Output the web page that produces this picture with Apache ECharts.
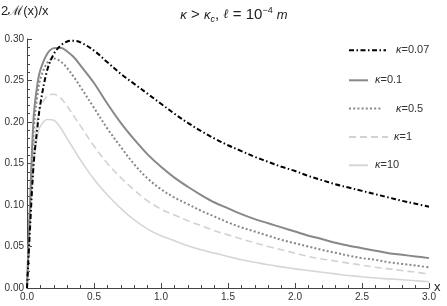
<!DOCTYPE html>
<html>
<head>
<meta charset="utf-8">
<script src="https://cdn.jsdelivr.net/npm/echarts@6/dist/echarts.min.js"></script>
<style>html,body{margin:0;padding:0;background:#fff}#c{width:447px;height:306px}</style>
</head>
<body>
<div id="c"></div>
<script>
// x positions of the sampled points
var xs = [0, 0.02, 0.05, 0.08, 0.1, 0.15, 0.2, 0.25, 0.3, 0.35, 0.4, 0.5, 0.6, 0.7, 0.8, 0.9, 1.0,
          1.1, 1.2, 1.3, 1.4, 1.5, 1.6, 1.7, 1.8, 1.9, 2.0, 2.1, 2.2, 2.3, 2.4, 2.5, 2.6, 2.7, 2.8, 2.9, 3.0];
// 2M(x)/x for each kappa
var k007 = [0, 0.064, 0.15, 0.197, 0.222, 0.262, 0.282, 0.292, 0.297, 0.298, 0.296, 0.286, 0.272, 0.258, 0.246, 0.234, 0.222,
            0.210, 0.199, 0.189, 0.180, 0.172, 0.165, 0.158, 0.152, 0.146, 0.141, 0.135, 0.130, 0.125, 0.121, 0.117, 0.113, 0.109, 0.105, 0.1015, 0.098];
var k01  = [0, 0.09, 0.207, 0.248, 0.263, 0.282, 0.289, 0.2895, 0.285, 0.278, 0.268, 0.247, 0.222, 0.199, 0.179, 0.161, 0.146,
            0.133, 0.122, 0.112, 0.103, 0.096, 0.089, 0.083, 0.078, 0.073, 0.068, 0.063, 0.059, 0.0545, 0.051, 0.048, 0.045, 0.042, 0.040, 0.038, 0.036];
var k05  = [0, 0.085, 0.19, 0.235, 0.252, 0.271, 0.2765, 0.273, 0.265, 0.254, 0.242, 0.217, 0.192, 0.170, 0.149, 0.132, 0.119,
            0.109, 0.101, 0.093, 0.086, 0.079, 0.073, 0.068, 0.063, 0.058, 0.054, 0.050, 0.046, 0.0425, 0.039, 0.036, 0.034, 0.031, 0.029, 0.027, 0.025];
var k1   = [0, 0.075, 0.165, 0.205, 0.218, 0.231, 0.2335, 0.229, 0.219, 0.207, 0.195, 0.171, 0.150, 0.133, 0.118, 0.105, 0.095,
            0.088, 0.081, 0.075, 0.069, 0.064, 0.059, 0.0545, 0.050, 0.046, 0.042, 0.038, 0.035, 0.0325, 0.030, 0.0275, 0.025, 0.023, 0.021, 0.019, 0.017];
var k10  = [0, 0.07, 0.15, 0.185, 0.195, 0.203, 0.202, 0.193, 0.180, 0.167, 0.154, 0.131, 0.112, 0.096, 0.082, 0.071, 0.063,
            0.057, 0.051, 0.046, 0.042, 0.038, 0.034, 0.031, 0.028, 0.0255, 0.023, 0.021, 0.019, 0.017, 0.015, 0.0135, 0.012, 0.011, 0.010, 0.0088, 0.0075];
var names = ['κ=0.07', 'κ=0.1', 'κ=0.5', 'κ=1', 'κ=10'];
var xTicks = [0, 0.5, 1.0, 1.5, 2.0, 2.5, 3.0];
var yTicks = [0, 0.05, 0.10, 0.15, 0.20, 0.25, 0.30];

function pairs(ys){ return xs.map(function(x,i){ return [x, ys[i]]; }); }

var styles = [
  {color:'#000000', width:2, type:[5,2.5,1.5,2.5]},
  {color:'#888888', width:2, type:'solid'},
  {color:'#888888', width:2, type:[2,2.2]},
  {color:'#d2d2d2', width:1.6, type:[7,4]},
  {color:'#d6d6d6', width:1.6, type:'solid'}
];
var allData = [k007, k01, k05, k1, k10];
var series = allData.map(function(d, i){
  return {
    name: names[i], type:'line', data: pairs(d), smooth: 0.35, symbol:'none',
    lineStyle: styles[i], itemStyle:{color: styles[i].color}, z: 10 - i
  };
});

var FONT = 'Liberation Sans, Arial, sans-serif';
function legendFmt(n){ return '{i|κ}' + n.slice(1); }
var legRows = [
  {top: 44.7, w: 37, pad: 5},
  {top: 74.7, w: 19, pad: 2},
  {top: 103,  w: 32, pad: 10},
  {top: 131.3,w: 39, pad: 1},
  {top: 159.7,w: 19, pad: 2}
];
var legends = legRows.map(function(r, i){
  return {
    data: [names[i]], left: 348, top: r.top, itemWidth: r.w, itemHeight: 14,
    padding: 0, selectedMode: false, formatter: legendFmt,
    itemStyle: {opacity: 0, borderWidth: 0},
    textStyle: {color:'#333', fontSize: 11, fontFamily: FONT, padding:[0,0,0,r.pad],
      rich: { i: {fontStyle:'italic', fontSize: 11, fontFamily: FONT, color:'#333'} } }
  };
});

var chart = echarts.init(document.getElementById('c'), null, {renderer:'canvas'});
chart.setOption({
  animation: false,
  backgroundColor: '#fff',
  title: {
    text: '{k|κ} > {k|κ}{s|c}, {l|ℓ} = 10{p|−4} {m|m}',
    left: 229, top: 1, textAlign: 'center',
    textStyle: {
      fontFamily: FONT, fontSize: 15, fontWeight: 'normal', color:'#222',
      rich: {
        k: {fontStyle:'italic', fontSize: 13, fontFamily: FONT, color:'#222', lineHeight: 18},
        s: {fontStyle:'italic', fontSize: 9, fontFamily: FONT, color:'#222', verticalAlign:'bottom', lineHeight: 12},
        l: {fontStyle:'italic', fontSize: 13, fontFamily: 'DejaVu Serif, serif', color:'#222', lineHeight: 18},
        p: {fontSize: 9, fontFamily: FONT, color:'#222', verticalAlign:'top', lineHeight: 12},
        m: {fontStyle:'italic', fontSize: 13, fontFamily: FONT, color:'#222', lineHeight: 18}
      }
    }
  },
  legend: legends,
  grid: {left: 27, right: 18, top: 39, bottom: 18, containLabel: false},
  xAxis: {
    type:'value', min: 0, max: 3, interval: 0.5,
    axisLine: {show:true, lineStyle:{color:'#444', width:1}},
    axisTick: {show:true, inside:true, length:5, lineStyle:{color:'#444'}},
    minorTick: {show:true, splitNumber:5, length:3, lineStyle:{color:'#444'}},
    splitLine: {show:false},
    axisLabel: {color:'#333', fontSize:10, fontFamily: FONT, margin: 4,
      formatter: function(v){ return xTicks.indexOf(v) >= 0 ? v.toFixed(1) : ''; }}
  },
  yAxis: {
    type:'value', min: 0, max: 0.30, interval: 0.05,
    axisLine: {show:true, lineStyle:{color:'#444', width:1}},
    axisTick: {show:true, inside:true, length:5, lineStyle:{color:'#444'}},
    minorTick: {show:true, splitNumber:5, length:3, lineStyle:{color:'#444'}},
    splitLine: {show:false},
    axisLabel: {color:'#333', fontSize:10, fontFamily: FONT, margin: 3,
      formatter: function(v){ return v.toFixed(2); }}
  },
  graphic: [
    {type:'text', left: 1, top: 5, style:{text:'2ℳ(x)/x', fill:'#222', font:'13px ' + FONT}},
    {type:'text', left: 434, top: 281, style:{text:'x', fill:'#222', font:'13px ' + FONT}}
  ],
  series: series
});
</script>
</body>
</html>
